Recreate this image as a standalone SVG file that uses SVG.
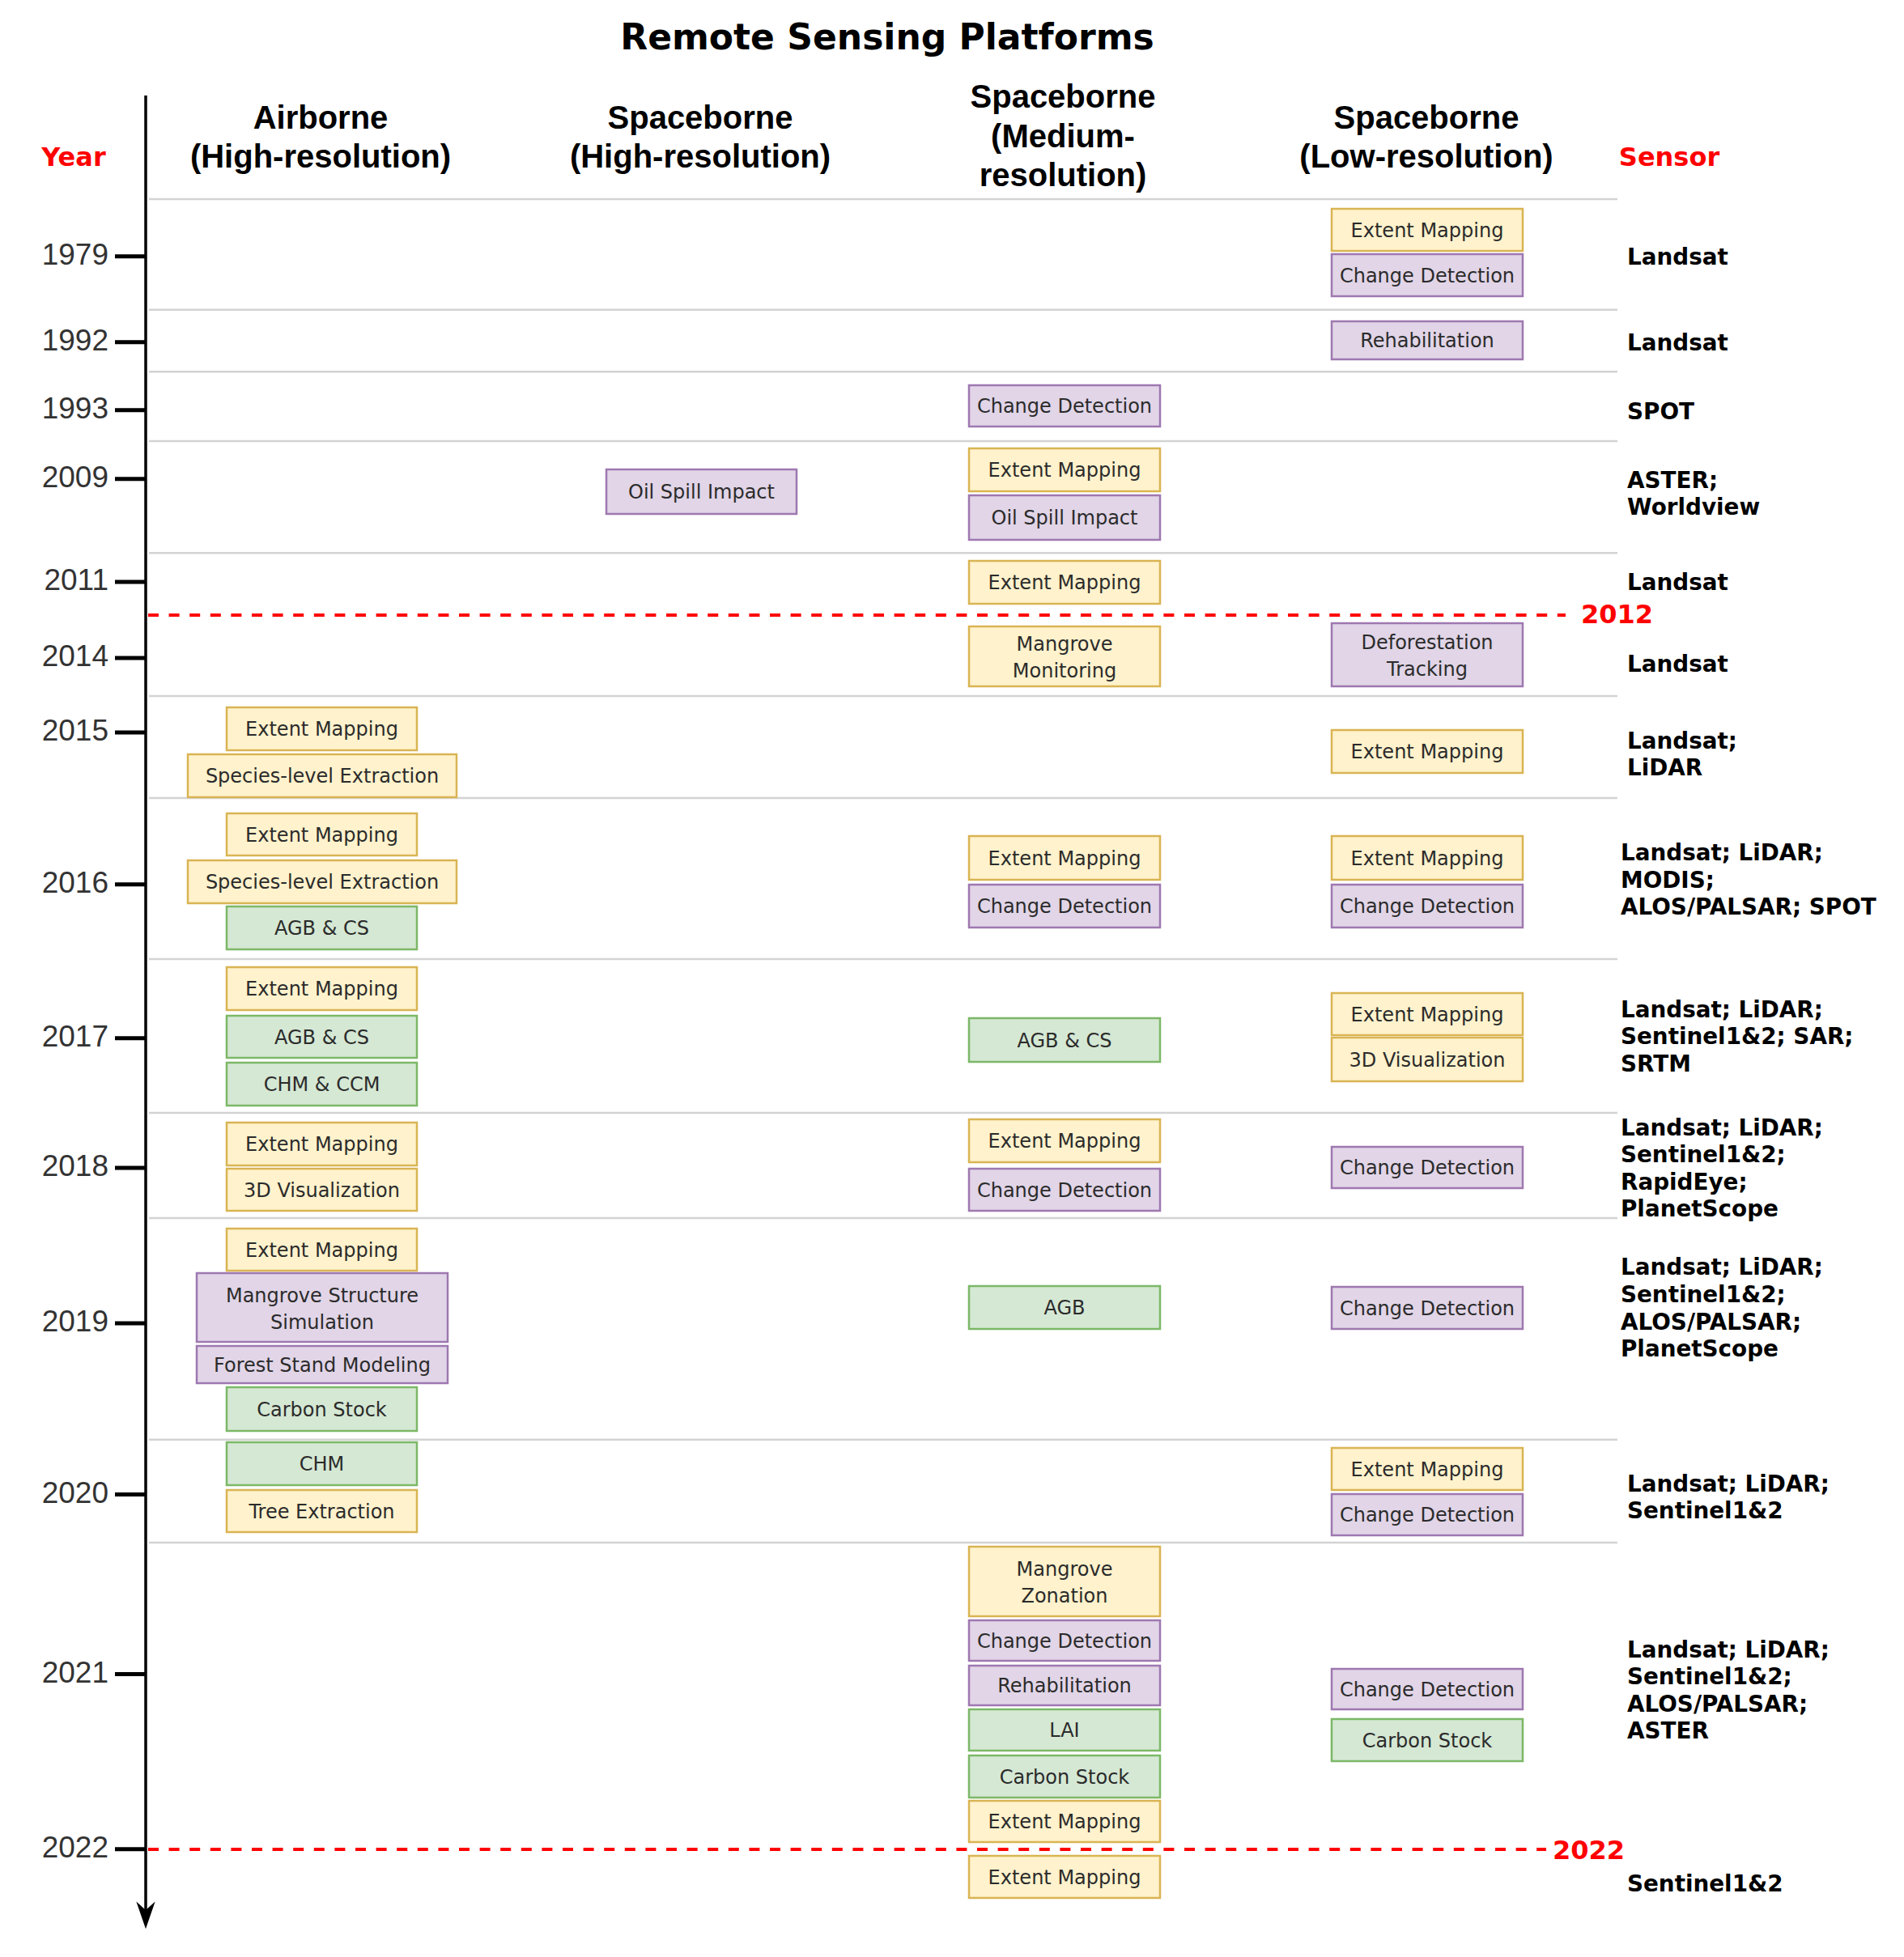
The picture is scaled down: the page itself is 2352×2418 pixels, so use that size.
<svg xmlns="http://www.w3.org/2000/svg" width="2352" height="2418" viewBox="0 0 2352 2418">
<style>
.bg{fill:#ffffff}
.title{font-family:"DejaVu Sans",Verdana,sans-serif;font-weight:bold;font-size:44px;fill:#000;text-anchor:middle}
.hdr{font-family:"Liberation Sans",Arial,sans-serif;font-weight:bold;font-size:40px;fill:#000;text-anchor:middle}
.red{font-family:"DejaVu Sans",Verdana,sans-serif;font-weight:bold;font-size:32px;fill:#ff0000}
.yr{font-family:"Liberation Sans",Arial,sans-serif;font-size:37px;fill:#333;text-anchor:end}
.sen{font-family:"DejaVu Sans",Verdana,sans-serif;font-weight:bold;font-size:27.8px;fill:#000}
.bt{font-family:"DejaVu Sans",Verdana,sans-serif;font-size:24px;fill:#2b2b2b;text-anchor:middle}
.y{fill:#fff2cc;stroke:#d9b453;stroke-width:2.5}
.p{fill:#e1d5e7;stroke:#9e78b0;stroke-width:2.5}
.g{fill:#d5e8d4;stroke:#7cb867;stroke-width:2.5}
.sep{stroke:#d3d3d3;stroke-width:2.5}
.tick{stroke:#000;stroke-width:5}
.dash{stroke:#ff0000;stroke-width:4;stroke-dasharray:13 12.6}
</style>
<rect class="bg" x="0" y="0" width="2352" height="2418"/>

<g id="title"><text class="title" x="1096" y="61">Remote Sensing Platforms</text></g>

<g id="headers">
<text class="red" x="91" y="205" text-anchor="middle">Year</text>
<text class="hdr" x="396" y="159">Airborne</text>
<text class="hdr" x="396" y="207">(High-resolution)</text>
<text class="hdr" x="865" y="159">Spaceborne</text>
<text class="hdr" x="865" y="207">(High-resolution)</text>
<text class="hdr" x="1313" y="133">Spaceborne</text>
<text class="hdr" x="1313" y="182">(Medium-</text>
<text class="hdr" x="1313" y="230">resolution)</text>
<text class="hdr" x="1762" y="159">Spaceborne</text>
<text class="hdr" x="1762" y="207">(Low-resolution)</text>
<text class="red" x="2062" y="205" text-anchor="middle">Sensor</text>
</g>

<g id="separators">
<line class="sep" x1="184" y1="246" x2="1998" y2="246"/>
<line class="sep" x1="184" y1="382.7" x2="1998" y2="382.7"/>
<line class="sep" x1="184" y1="459.3" x2="1998" y2="459.3"/>
<line class="sep" x1="184" y1="545" x2="1998" y2="545"/>
<line class="sep" x1="184" y1="683.3" x2="1998" y2="683.3"/>
<line class="sep" x1="184" y1="860" x2="1998" y2="860"/>
<line class="sep" x1="184" y1="986" x2="1998" y2="986"/>
<line class="sep" x1="184" y1="1185" x2="1998" y2="1185"/>
<line class="sep" x1="184" y1="1375" x2="1998" y2="1375"/>
<line class="sep" x1="184" y1="1505" x2="1998" y2="1505"/>
<line class="sep" x1="184" y1="1778.8" x2="1998" y2="1778.8"/>
<line class="sep" x1="184" y1="1906" x2="1998" y2="1906"/>
</g>

<g id="years">
<line class="tick" x1="142" y1="316.7" x2="180" y2="316.7"/><text class="yr" x="134" y="327">1979</text>
<line class="tick" x1="142" y1="422.7" x2="180" y2="422.7"/><text class="yr" x="134" y="433">1992</text>
<line class="tick" x1="142" y1="506.7" x2="180" y2="506.7"/><text class="yr" x="134" y="517">1993</text>
<line class="tick" x1="142" y1="591.7" x2="180" y2="591.7"/><text class="yr" x="134" y="602">2009</text>
<line class="tick" x1="142" y1="719" x2="180" y2="719"/><text class="yr" x="134" y="729">2011</text>
<line class="tick" x1="142" y1="813" x2="180" y2="813"/><text class="yr" x="134" y="823">2014</text>
<line class="tick" x1="142" y1="905" x2="180" y2="905"/><text class="yr" x="134" y="915">2015</text>
<line class="tick" x1="142" y1="1092.7" x2="180" y2="1092.7"/><text class="yr" x="134" y="1103">2016</text>
<line class="tick" x1="142" y1="1282.7" x2="180" y2="1282.7"/><text class="yr" x="134" y="1293">2017</text>
<line class="tick" x1="142" y1="1443" x2="180" y2="1443"/><text class="yr" x="134" y="1453">2018</text>
<line class="tick" x1="142" y1="1635" x2="180" y2="1635"/><text class="yr" x="134" y="1645">2019</text>
<line class="tick" x1="142" y1="1846.5" x2="180" y2="1846.5"/><text class="yr" x="134" y="1857">2020</text>
<line class="tick" x1="142" y1="2068.5" x2="180" y2="2068.5"/><text class="yr" x="134" y="2079">2021</text>
<line class="tick" x1="142" y1="2284.8" x2="180" y2="2284.8"/><text class="yr" x="134" y="2295">2022</text>
</g>

<g id="milestones">
<line class="dash" x1="183" y1="760" x2="1934" y2="760"/>
<text class="red" x="1953" y="770">2012</text>
<line class="dash" x1="183" y1="2285" x2="1910" y2="2285"/>
<text class="red" x="1918" y="2297">2022</text>
</g>

<g id="connectors">
<line x1="180" y1="118" x2="180" y2="2370" stroke="#000" stroke-width="3.5"/>
<path d="M170,2352 L180,2381 L190,2352 L180,2361 Z" fill="#000" stroke="#000" stroke-width="1.5" stroke-linejoin="miter"/>
</g>

<g id="sensors">
<text class="sen" x="2010" y="327">Landsat</text>
<text class="sen" x="2010" y="433">Landsat</text>
<text class="sen" x="2010" y="518">SPOT</text>
<text class="sen" x="2010" y="603">ASTER;</text>
<text class="sen" x="2010" y="636">Worldview</text>
<text class="sen" x="2010" y="729">Landsat</text>
<text class="sen" x="2010" y="830">Landsat</text>
<text class="sen" x="2010" y="925">Landsat;</text>
<text class="sen" x="2010" y="958">LiDAR</text>
<text class="sen" x="2002" y="1063">Landsat; LiDAR;</text>
<text class="sen" x="2002" y="1097">MODIS;</text>
<text class="sen" x="2002" y="1130">ALOS/PALSAR; SPOT</text>
<text class="sen" x="2002" y="1257">Landsat; LiDAR;</text>
<text class="sen" x="2002" y="1290">Sentinel1&amp;2; SAR;</text>
<text class="sen" x="2002" y="1324">SRTM</text>
<text class="sen" x="2002" y="1403">Landsat; LiDAR;</text>
<text class="sen" x="2002" y="1436">Sentinel1&amp;2;</text>
<text class="sen" x="2002" y="1470">RapidEye;</text>
<text class="sen" x="2002" y="1503">PlanetScope</text>
<text class="sen" x="2002" y="1575">Landsat; LiDAR;</text>
<text class="sen" x="2002" y="1609">Sentinel1&amp;2;</text>
<text class="sen" x="2002" y="1643">ALOS/PALSAR;</text>
<text class="sen" x="2002" y="1676">PlanetScope</text>
<text class="sen" x="2010" y="1843">Landsat; LiDAR;</text>
<text class="sen" x="2010" y="1876">Sentinel1&amp;2</text>
<text class="sen" x="2010" y="2048">Landsat; LiDAR;</text>
<text class="sen" x="2010" y="2081">Sentinel1&amp;2;</text>
<text class="sen" x="2010" y="2115">ALOS/PALSAR;</text>
<text class="sen" x="2010" y="2148">ASTER</text>
<text class="sen" x="2010" y="2337">Sentinel1&amp;2</text>
</g>

<!-- Airborne column -->
<g id="air-2015-extent"><rect class="y" x="280" y="874" width="235" height="53"/><text class="bt" x="397.5" y="909">Extent Mapping</text></g>
<g id="air-2015-species"><rect class="y" x="232" y="932" width="332" height="53"/><text class="bt" x="398" y="967">Species-level Extraction</text></g>
<g id="air-2016-extent"><rect class="y" x="280" y="1005" width="235" height="52"/><text class="bt" x="397.5" y="1039.5">Extent Mapping</text></g>
<g id="air-2016-species"><rect class="y" x="232" y="1063" width="332" height="53"/><text class="bt" x="398" y="1098">Species-level Extraction</text></g>
<g id="air-2016-agb"><rect class="g" x="280" y="1120" width="235" height="53"/><text class="bt" x="397.5" y="1155">AGB &amp; CS</text></g>
<g id="air-2017-extent"><rect class="y" x="280" y="1195" width="235" height="53"/><text class="bt" x="397.5" y="1230">Extent Mapping</text></g>
<g id="air-2017-agb"><rect class="g" x="280" y="1255" width="235" height="52"/><text class="bt" x="397.5" y="1289.5">AGB &amp; CS</text></g>
<g id="air-2017-chm"><rect class="g" x="280" y="1313" width="235" height="53"/><text class="bt" x="397.5" y="1348">CHM &amp; CCM</text></g>
<g id="air-2018-extent"><rect class="y" x="280" y="1387" width="235" height="53"/><text class="bt" x="397.5" y="1422">Extent Mapping</text></g>
<g id="air-2018-3d"><rect class="y" x="280" y="1444" width="235" height="52"/><text class="bt" x="397.5" y="1478.5">3D Visualization</text></g>
<g id="air-2019-extent"><rect class="y" x="280" y="1518" width="235" height="52"/><text class="bt" x="397.5" y="1552.5">Extent Mapping</text></g>
<g id="air-2019-mss"><rect class="p" x="243" y="1573" width="310" height="85"/><text class="bt" x="398" y="1608.5">Mangrove Structure</text><text class="bt" x="398" y="1642">Simulation</text></g>
<g id="air-2019-fsm"><rect class="p" x="243" y="1663" width="310" height="46"/><text class="bt" x="398" y="1694.5">Forest Stand Modeling</text></g>
<g id="air-2019-carbon"><rect class="g" x="280" y="1714" width="235" height="54"/><text class="bt" x="397.5" y="1749.5">Carbon Stock</text></g>
<g id="air-2020-chm"><rect class="g" x="280" y="1782" width="235" height="53"/><text class="bt" x="397.5" y="1817">CHM</text></g>
<g id="air-2020-tree"><rect class="y" x="280" y="1841" width="235" height="52"/><text class="bt" x="397.5" y="1875.5">Tree Extraction</text></g>

<!-- Spaceborne high-resolution column -->
<g id="high-2009-oil"><rect class="p" x="749" y="580" width="235" height="55"/><text class="bt" x="866.5" y="616">Oil Spill Impact</text></g>

<!-- Spaceborne medium-resolution column -->
<g id="med-1993-change"><rect class="p" x="1197" y="476" width="236" height="51"/><text class="bt" x="1315" y="510">Change Detection</text></g>
<g id="med-2009-extent"><rect class="y" x="1197" y="554" width="236" height="53"/><text class="bt" x="1315" y="589">Extent Mapping</text></g>
<g id="med-2009-oil"><rect class="p" x="1197" y="612" width="236" height="55"/><text class="bt" x="1315" y="648">Oil Spill Impact</text></g>
<g id="med-2011-extent"><rect class="y" x="1197" y="693" width="236" height="53"/><text class="bt" x="1315" y="728">Extent Mapping</text></g>
<g id="med-2014-monitoring"><rect class="y" x="1197" y="774" width="236" height="74"/><text class="bt" x="1315" y="803.5">Mangrove</text><text class="bt" x="1315" y="837">Monitoring</text></g>
<g id="med-2016-extent"><rect class="y" x="1197" y="1033" width="236" height="54"/><text class="bt" x="1315" y="1068.5">Extent Mapping</text></g>
<g id="med-2016-change"><rect class="p" x="1197" y="1093" width="236" height="53"/><text class="bt" x="1315" y="1128">Change Detection</text></g>
<g id="med-2017-agb"><rect class="g" x="1197" y="1258" width="236" height="54"/><text class="bt" x="1315" y="1293.5">AGB &amp; CS</text></g>
<g id="med-2018-extent"><rect class="y" x="1197" y="1383" width="236" height="53"/><text class="bt" x="1315" y="1418">Extent Mapping</text></g>
<g id="med-2018-change"><rect class="p" x="1197" y="1444" width="236" height="52"/><text class="bt" x="1315" y="1478.5">Change Detection</text></g>
<g id="med-2019-agb"><rect class="g" x="1197" y="1589" width="236" height="53"/><text class="bt" x="1315" y="1624">AGB</text></g>
<g id="med-2021-zonation"><rect class="y" x="1197" y="1911" width="236" height="86"/><text class="bt" x="1315" y="1946.5">Mangrove</text><text class="bt" x="1315" y="1980">Zonation</text></g>
<g id="med-2021-change"><rect class="p" x="1197" y="2002" width="236" height="50"/><text class="bt" x="1315" y="2035.5">Change Detection</text></g>
<g id="med-2021-rehab"><rect class="p" x="1197" y="2058" width="236" height="49"/><text class="bt" x="1315" y="2091">Rehabilitation</text></g>
<g id="med-2021-lai"><rect class="g" x="1197" y="2112" width="236" height="51"/><text class="bt" x="1315" y="2146">LAI</text></g>
<g id="med-2021-carbon"><rect class="g" x="1197" y="2169" width="236" height="52"/><text class="bt" x="1315" y="2203.5">Carbon Stock</text></g>
<g id="med-2021-extent"><rect class="y" x="1197" y="2225" width="236" height="51"/><text class="bt" x="1315" y="2259">Extent Mapping</text></g>
<g id="med-2022-extent"><rect class="y" x="1197" y="2293" width="236" height="52"/><text class="bt" x="1315" y="2327.5">Extent Mapping</text></g>

<!-- Spaceborne low-resolution column -->
<g id="low-1979-extent"><rect class="y" x="1645" y="258" width="236" height="52"/><text class="bt" x="1763" y="292.5">Extent Mapping</text></g>
<g id="low-1979-change"><rect class="p" x="1645" y="314" width="236" height="52"/><text class="bt" x="1763" y="348.5">Change Detection</text></g>
<g id="low-1992-rehab"><rect class="p" x="1645" y="397" width="236" height="47"/><text class="bt" x="1763" y="429">Rehabilitation</text></g>
<g id="low-2014-deforestation"><rect class="p" x="1645" y="770" width="236" height="78"/><text class="bt" x="1763" y="801.5">Deforestation</text><text class="bt" x="1763" y="835">Tracking</text></g>
<g id="low-2015-extent"><rect class="y" x="1645" y="902" width="236" height="53"/><text class="bt" x="1763" y="937">Extent Mapping</text></g>
<g id="low-2016-extent"><rect class="y" x="1645" y="1033" width="236" height="54"/><text class="bt" x="1763" y="1068.5">Extent Mapping</text></g>
<g id="low-2016-change"><rect class="p" x="1645" y="1093" width="236" height="53"/><text class="bt" x="1763" y="1128">Change Detection</text></g>
<g id="low-2017-extent"><rect class="y" x="1645" y="1227" width="236" height="52"/><text class="bt" x="1763" y="1261.5">Extent Mapping</text></g>
<g id="low-2017-3d"><rect class="y" x="1645" y="1282" width="236" height="54"/><text class="bt" x="1763" y="1317.5">3D Visualization</text></g>
<g id="low-2018-change"><rect class="p" x="1645" y="1417" width="236" height="51"/><text class="bt" x="1763" y="1451">Change Detection</text></g>
<g id="low-2019-change"><rect class="p" x="1645" y="1590" width="236" height="52"/><text class="bt" x="1763" y="1624.5">Change Detection</text></g>
<g id="low-2020-extent"><rect class="y" x="1645" y="1789" width="236" height="52"/><text class="bt" x="1763" y="1823.5">Extent Mapping</text></g>
<g id="low-2020-change"><rect class="p" x="1645" y="1846" width="236" height="51"/><text class="bt" x="1763" y="1880">Change Detection</text></g>
<g id="low-2021-change"><rect class="p" x="1645" y="2062" width="236" height="50"/><text class="bt" x="1763" y="2095.5">Change Detection</text></g>
<g id="low-2021-carbon"><rect class="g" x="1645" y="2124" width="236" height="52"/><text class="bt" x="1763" y="2158.5">Carbon Stock</text></g>
</svg>
